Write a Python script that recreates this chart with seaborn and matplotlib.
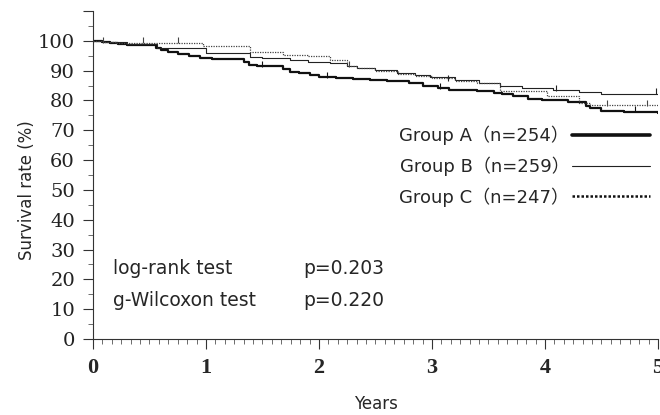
import matplotlib
matplotlib.use("Agg")
import matplotlib.pyplot as plt
from matplotlib.ticker import MultipleLocator
from matplotlib.lines import Line2D
import seaborn as sns
import pandas as pd

# Kaplan-Meier steps (years, survival %)
a_time = [0, 0.08, 0.15, 0.22, 0.30, 0.56, 0.60, 0.66, 0.75, 0.85, 0.95, 1.05, 1.34, 1.38,
          1.45, 1.68, 1.74, 1.82, 1.92, 2.00, 2.15, 2.30, 2.45, 2.60, 2.80, 2.92, 3.05, 3.15,
          3.40, 3.55, 3.62, 3.72, 3.85, 3.97, 4.20, 4.36, 4.40, 4.50, 4.70, 5.0]
a_surv = [100, 99.6, 99.2, 98.9, 98.6, 97.6, 96.8, 96.3, 95.6, 95.0, 94.4, 93.8, 92.9, 92.0,
          91.4, 90.4, 89.7, 89.2, 88.6, 88.0, 87.6, 87.2, 86.9, 86.4, 85.8, 85.0, 84.2, 83.5,
          83.2, 82.6, 82.0, 81.4, 80.6, 80.0, 79.6, 78.2, 77.4, 76.6, 76.2, 75.9]

b_time = [0, 0.10, 0.30, 0.57, 1.00, 1.39, 1.50, 1.74, 1.90, 2.10, 2.25, 2.34, 2.50, 2.69,
          2.85, 2.98, 3.20, 3.42, 3.60, 3.80, 4.07, 4.30, 4.50, 5.0]
b_surv = [100, 99.6, 98.9, 97.5, 95.9, 94.7, 94.2, 93.4, 93.0, 92.5, 91.6, 90.8, 90.1, 89.2,
          88.5, 87.8, 86.8, 85.8, 84.9, 84.2, 83.4, 82.8, 82.3, 82.3]

c_time = [0, 0.09, 0.20, 0.97, 1.39, 1.68, 1.90, 2.10, 2.25, 2.34, 2.50, 2.70, 2.85, 3.00,
          3.20, 3.40, 3.60, 4.02, 4.30, 4.40, 5.0]
c_surv = [100, 99.6, 99.4, 98.1, 96.4, 95.3, 94.8, 93.6, 91.4, 90.8, 89.8, 88.8, 88.1, 87.5,
          86.6, 85.9, 83.3, 81.5, 79.2, 78.4, 78.3]

# censoring marks
a_cens_t = [1.50, 2.07, 3.07, 4.80]
a_cens_s = [91.4, 87.9, 84.2, 76.2]
b_cens_t = [3.14, 4.10, 4.98]
b_cens_s = [86.8, 83.4, 82.3]
c_cens_t = [0.09, 0.44, 0.75, 2.27, 4.55, 4.90]
c_cens_s = [99.6, 99.4, 99.4, 91.4, 78.4, 78.3]

labels = ["Group A（n=254）", "Group B（n=259）", "Group C（n=247）"]
pval_names = ["log-rank test", "g-Wilcoxon test"]
pval_values = ["p=0.203", "p=0.220"]

sns.set_style("ticks")
plt.rcParams["font.family"] = ["DejaVu Sans", "Noto Sans CJK JP"]

fig = plt.figure(figsize=(6.6, 4.15), dpi=100)
ax = fig.add_axes([0.1409, 0.1831, 0.856, 0.7904])

styles = [
    dict(color="#111111", linewidth=1.6, linestyle="-"),
    dict(color="#222222", linewidth=0.8, linestyle="-"),
    dict(color="#444444", linewidth=0.9, linestyle=(0, (1, 1))),
]
series = [(a_time, a_surv, a_cens_t, a_cens_s),
          (b_time, b_surv, b_cens_t, b_cens_s),
          (c_time, c_surv, c_cens_t, c_cens_s)]

for (t, s, ct, cs), st in zip(series, styles):
    df = pd.DataFrame({"t": t, "s": s})
    sns.lineplot(data=df, x="t", y="s", ax=ax, drawstyle="steps-post", **st)
    ax.plot(ct, [v + 0.8 for v in cs], marker="|", linestyle="none", color=st["color"],
            markersize=5, markeredgewidth=0.8)

handles = [Line2D([], [], **st) for st in styles]
handles[0].set_linewidth(2.6)
handles[2].set_linestyle((0, (1, 0.8)))
handles[2].set_linewidth(1.8)
handles[2].set_color("#111111")
leg = ax.legend(handles, labels, loc="upper right", bbox_to_anchor=(0.998, 0.672),
                frameon=False, markerfirst=False, handlelength=4.3, handletextpad=0.15,
                labelspacing=0.62, fontsize=13, borderaxespad=0,
                prop={"family": ["DejaVu Sans", "Noto Sans CJK JP"], "size": 13})

for name, val, yy in zip(pval_names, pval_values, [0.215, 0.118]):
    ax.text(0.036, yy, name, transform=ax.transAxes, fontsize=13.5, va="center",
            fontfamily=["DejaVu Sans", "Noto Sans CJK JP"])
    ax.text(0.372, yy, val, transform=ax.transAxes, fontsize=13.5, va="center",
            fontfamily=["DejaVu Sans", "Noto Sans CJK JP"])

ax.set_xlim(0, 5)
ax.set_ylim(0, 110)
ax.set_yticks(range(0, 111, 10))
ax.set_yticklabels([str(v) for v in range(0, 101, 10)] + [""],
                   fontfamily="DejaVu Serif", fontsize=14, color="#222222")
ax.yaxis.set_minor_locator(MultipleLocator(5))
ax.set_xticks(range(0, 6))
ax.set_xticklabels([str(v) for v in range(0, 6)], fontfamily="Liberation Serif",
                   fontweight="bold", fontsize=16)
ax.xaxis.set_minor_locator(MultipleLocator(1 / 12))
ax.tick_params(axis="both", which="major", length=7, width=0.8, color="#333333")
ax.tick_params(axis="both", which="minor", length=3.5, width=0.6, color="#555555")
ax.tick_params(axis="y", pad=6)
ax.tick_params(axis="x", pad=7)

ax.set_xlabel("Years", fontsize=12, labelpad=12)
ax.set_ylabel("Survival rate (%)", fontsize=12)
ax.yaxis.set_label_coords(-0.101, 0.454)
for side in ["top", "right"]:
    ax.spines[side].set_visible(False)
for side in ["left", "bottom"]:
    ax.spines[side].set_linewidth(0.8)
    ax.spines[side].set_color("#333333")

fig.savefig("out.png", dpi=100)
